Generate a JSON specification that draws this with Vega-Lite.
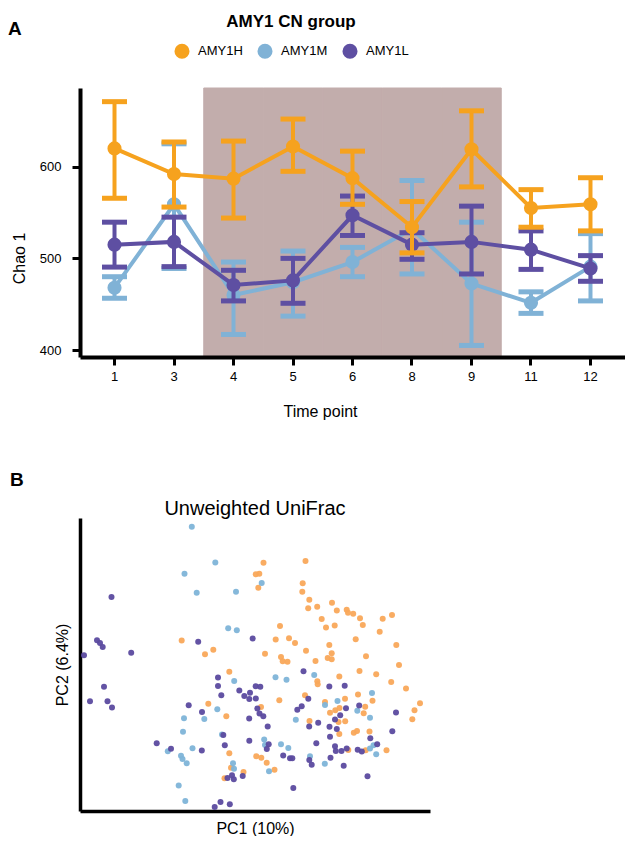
{
  "$schema": "https://vega.github.io/schema/vega-lite/v6.json",
  "padding": {"left": 8, "top": 14, "right": 0, "bottom": 0},
  "config": {
    "font": "Liberation Sans",
    "view": {"stroke": null},
    "axis": {"grid": false, "domainColor": "black", "tickColor": "black", "labelColor": "black", "titleColor": "black", "titleFontWeight": "normal"},
    "title": {"color": "black"}
  },
  "spacing": 52,
  "align": "none",
  "resolve": {"scale": {"color": "independent"}, "legend": {"color": "independent"}},
  "datasets": {
    "chao": [
      {"t": 1, "g": "AMY1H", "mean": 620, "lo": 565.6, "hi": 671},
      {"t": 3, "g": "AMY1H", "mean": 592, "lo": 556, "hi": 627},
      {"t": 4, "g": "AMY1H", "mean": 587, "lo": 544, "hi": 628},
      {"t": 5, "g": "AMY1H", "mean": 622, "lo": 595, "hi": 652},
      {"t": 6, "g": "AMY1H", "mean": 587.5, "lo": 559, "hi": 617},
      {"t": 8, "g": "AMY1H", "mean": 534, "lo": 506, "hi": 562},
      {"t": 9, "g": "AMY1H", "mean": 619, "lo": 578, "hi": 661},
      {"t": 11, "g": "AMY1H", "mean": 555, "lo": 534, "hi": 575},
      {"t": 12, "g": "AMY1H", "mean": 559, "lo": 530, "hi": 588},
      {"t": 1, "g": "AMY1M", "mean": 468, "lo": 456.5, "hi": 480},
      {"t": 3, "g": "AMY1M", "mean": 559, "lo": 489, "hi": 625},
      {"t": 4, "g": "AMY1M", "mean": 460, "lo": 417, "hi": 496},
      {"t": 5, "g": "AMY1M", "mean": 474, "lo": 437, "hi": 508},
      {"t": 6, "g": "AMY1M", "mean": 496, "lo": 480, "hi": 512},
      {"t": 8, "g": "AMY1M", "mean": 532, "lo": 483, "hi": 585},
      {"t": 9, "g": "AMY1M", "mean": 472.5, "lo": 405, "hi": 539.5},
      {"t": 11, "g": "AMY1M", "mean": 451.5, "lo": 440, "hi": 463.5},
      {"t": 12, "g": "AMY1M", "mean": 491, "lo": 453.6, "hi": 527},
      {"t": 1, "g": "AMY1L", "mean": 515, "lo": 490.5, "hi": 539.5},
      {"t": 3, "g": "AMY1L", "mean": 518, "lo": 491, "hi": 545},
      {"t": 4, "g": "AMY1L", "mean": 471, "lo": 453.6, "hi": 487},
      {"t": 5, "g": "AMY1L", "mean": 476, "lo": 451, "hi": 500},
      {"t": 6, "g": "AMY1L", "mean": 547, "lo": 525, "hi": 568},
      {"t": 8, "g": "AMY1L", "mean": 515, "lo": 499, "hi": 528},
      {"t": 9, "g": "AMY1L", "mean": 518, "lo": 483, "hi": 557},
      {"t": 11, "g": "AMY1L", "mean": 509.5, "lo": 488, "hi": 530},
      {"t": 12, "g": "AMY1L", "mean": 489, "lo": 475, "hi": 503}
    ],
    "pcoa": [
      {"g": "AMY1H", "pc1": 190.5, "pc2": 248.3},
      {"g": "AMY1H", "pc1": 232.5, "pc2": 250},
      {"g": "AMY1H", "pc1": 182.8, "pc2": 236.7},
      {"g": "AMY1H", "pc1": 186.3, "pc2": 237.3},
      {"g": "AMY1H", "pc1": 185.3, "pc2": 223.3},
      {"g": "AMY1H", "pc1": 229.7, "pc2": 227.7},
      {"g": "AMY1H", "pc1": 229.3, "pc2": 219.3},
      {"g": "AMY1H", "pc1": 236.3, "pc2": 211.3},
      {"g": "AMY1H", "pc1": 235.2, "pc2": 202.7},
      {"g": "AMY1H", "pc1": 244.2, "pc2": 204.2},
      {"g": "AMY1H", "pc1": 259, "pc2": 208.2},
      {"g": "AMY1H", "pc1": 263.8, "pc2": 200.5},
      {"g": "AMY1H", "pc1": 273.7, "pc2": 201.3},
      {"g": "AMY1H", "pc1": 275, "pc2": 198.3},
      {"g": "AMY1H", "pc1": 280.2, "pc2": 197.3},
      {"g": "AMY1H", "pc1": 287, "pc2": 192.7},
      {"g": "AMY1H", "pc1": 289.8, "pc2": 186},
      {"g": "AMY1H", "pc1": 309.7, "pc2": 192.3},
      {"g": "AMY1H", "pc1": 319, "pc2": 196},
      {"g": "AMY1H", "pc1": 306.7, "pc2": 179.3},
      {"g": "AMY1H", "pc1": 248.7, "pc2": 192},
      {"g": "AMY1H", "pc1": 253, "pc2": 183.5},
      {"g": "AMY1H", "pc1": 261.7, "pc2": 185.5},
      {"g": "AMY1H", "pc1": 207, "pc2": 185},
      {"g": "AMY1H", "pc1": 202.7, "pc2": 171.5},
      {"g": "AMY1H", "pc1": 216, "pc2": 172.7},
      {"g": "AMY1H", "pc1": 222, "pc2": 168},
      {"g": "AMY1H", "pc1": 282.7, "pc2": 171.7},
      {"g": "AMY1H", "pc1": 323.3, "pc2": 166},
      {"g": "AMY1H", "pc1": 256.3, "pc2": 166},
      {"g": "AMY1H", "pc1": 233, "pc2": 160.3},
      {"g": "AMY1H", "pc1": 258.7, "pc2": 157.8},
      {"g": "AMY1H", "pc1": 254.7, "pc2": 153},
      {"g": "AMY1H", "pc1": 258.7, "pc2": 151.7},
      {"g": "AMY1H", "pc1": 242.5, "pc2": 150},
      {"g": "AMY1H", "pc1": 293, "pc2": 154.8},
      {"g": "AMY1H", "pc1": 192, "pc2": 157.3},
      {"g": "AMY1H", "pc1": 208, "pc2": 154},
      {"g": "AMY1H", "pc1": 209.7, "pc2": 149.7},
      {"g": "AMY1H", "pc1": 214.5, "pc2": 149.3},
      {"g": "AMY1H", "pc1": 326, "pc2": 146},
      {"g": "AMY1H", "pc1": 286.5, "pc2": 140},
      {"g": "AMY1H", "pc1": 303.2, "pc2": 136.8},
      {"g": "AMY1H", "pc1": 244.3, "pc2": 129.7},
      {"g": "AMY1H", "pc1": 244.7, "pc2": 126.7},
      {"g": "AMY1H", "pc1": 266.3, "pc2": 134.5},
      {"g": "AMY1H", "pc1": 318.2, "pc2": 129},
      {"g": "AMY1H", "pc1": 333, "pc2": 122.5},
      {"g": "AMY1H", "pc1": 285, "pc2": 116.5},
      {"g": "AMY1H", "pc1": 299.5, "pc2": 110.2},
      {"g": "AMY1H", "pc1": 206.3, "pc2": 110.7},
      {"g": "AMY1H", "pc1": 272, "pc2": 112.3},
      {"g": "AMY1H", "pc1": 347, "pc2": 107.7},
      {"g": "AMY1H", "pc1": 292.2, "pc2": 104.3},
      {"g": "AMY1H", "pc1": 290.7, "pc2": 97.7},
      {"g": "AMY1H", "pc1": 257, "pc2": 98.3},
      {"g": "AMY1H", "pc1": 262.3, "pc2": 100.8},
      {"g": "AMY1H", "pc1": 266.5, "pc2": 103},
      {"g": "AMY1H", "pc1": 232, "pc2": 115.7},
      {"g": "AMY1H", "pc1": 252, "pc2": 109},
      {"g": "AMY1H", "pc1": 188, "pc2": 104},
      {"g": "AMY1H", "pc1": 236.5, "pc2": 90},
      {"g": "AMY1H", "pc1": 265.5, "pc2": 89},
      {"g": "AMY1H", "pc1": 272.2, "pc2": 89.8},
      {"g": "AMY1H", "pc1": 341.5, "pc2": 100.7},
      {"g": "AMY1H", "pc1": 339.3, "pc2": 91.7},
      {"g": "AMY1H", "pc1": 280.8, "pc2": 78.3},
      {"g": "AMY1H", "pc1": 284, "pc2": 80},
      {"g": "AMY1H", "pc1": 266.3, "pc2": 77},
      {"g": "AMY1H", "pc1": 296.5, "pc2": 79.5},
      {"g": "AMY1H", "pc1": 183.3, "pc2": 54.8},
      {"g": "AMY1H", "pc1": 188.3, "pc2": 53.3},
      {"g": "AMY1H", "pc1": 193.7, "pc2": 48.3},
      {"g": "AMY1H", "pc1": 275.3, "pc2": 61},
      {"g": "AMY1H", "pc1": 292.7, "pc2": 60.7},
      {"g": "AMY1H", "pc1": 313.5, "pc2": 60.7},
      {"g": "AMY1H", "pc1": 201.5, "pc2": 41.3},
      {"g": "AMY1H", "pc1": 170.5, "pc2": 39},
      {"g": "AMY1H", "pc1": 158, "pc2": 43.3},
      {"g": "AMY1H", "pc1": 151.5, "pc2": 32.7},
      {"g": "AMY1H", "pc1": 156.3, "pc2": 57.7},
      {"g": "AMY1H", "pc1": 156.3, "pc2": 139.3},
      {"g": "AMY1H", "pc1": 135.3, "pc2": 107.3},
      {"g": "AMY1H", "pc1": 153.3, "pc2": 94.7},
      {"g": "AMY1H", "pc1": 108.7, "pc2": 170.5},
      {"g": "AMY1H", "pc1": 132, "pc2": 156.7},
      {"g": "AMY1H", "pc1": 140.3, "pc2": 161.3},
      {"g": "AMY1M", "pc1": 118.8, "pc2": 284.2},
      {"g": "AMY1M", "pc1": 142.3, "pc2": 248.5},
      {"g": "AMY1M", "pc1": 111.5, "pc2": 237.3},
      {"g": "AMY1M", "pc1": 123.7, "pc2": 218.3},
      {"g": "AMY1M", "pc1": 163, "pc2": 219.2},
      {"g": "AMY1M", "pc1": 188.7, "pc2": 228},
      {"g": "AMY1M", "pc1": 155.2, "pc2": 182.7},
      {"g": "AMY1M", "pc1": 163.8, "pc2": 180.8},
      {"g": "AMY1M", "pc1": 161.2, "pc2": 130},
      {"g": "AMY1M", "pc1": 144.3, "pc2": 101.8},
      {"g": "AMY1M", "pc1": 131.3, "pc2": 92},
      {"g": "AMY1M", "pc1": 111, "pc2": 92.7},
      {"g": "AMY1M", "pc1": 110, "pc2": 79.2},
      {"g": "AMY1M", "pc1": 94.8, "pc2": 59.8},
      {"g": "AMY1M", "pc1": 119.5, "pc2": 62.7},
      {"g": "AMY1M", "pc1": 108, "pc2": 55.3},
      {"g": "AMY1M", "pc1": 109.5, "pc2": 52},
      {"g": "AMY1M", "pc1": 113.7, "pc2": 47.7},
      {"g": "AMY1M", "pc1": 105.7, "pc2": 25.5},
      {"g": "AMY1M", "pc1": 112.3, "pc2": 10},
      {"g": "AMY1M", "pc1": 149, "pc2": 76.5},
      {"g": "AMY1M", "pc1": 191.2, "pc2": 71.5},
      {"g": "AMY1M", "pc1": 192, "pc2": 66},
      {"g": "AMY1M", "pc1": 208, "pc2": 66.7},
      {"g": "AMY1M", "pc1": 215.3, "pc2": 63},
      {"g": "AMY1M", "pc1": 160, "pc2": 47.7},
      {"g": "AMY1M", "pc1": 161, "pc2": 42.3},
      {"g": "AMY1M", "pc1": 196, "pc2": 39.7},
      {"g": "AMY1M", "pc1": 202.5, "pc2": 133.7},
      {"g": "AMY1M", "pc1": 213.5, "pc2": 131.3},
      {"g": "AMY1M", "pc1": 222.8, "pc2": 91.2},
      {"g": "AMY1M", "pc1": 241.2, "pc2": 136},
      {"g": "AMY1M", "pc1": 237, "pc2": 54.7},
      {"g": "AMY1M", "pc1": 251.8, "pc2": 47.3},
      {"g": "AMY1M", "pc1": 252, "pc2": 106},
      {"g": "AMY1M", "pc1": 264.5, "pc2": 110},
      {"g": "AMY1M", "pc1": 299, "pc2": 118},
      {"g": "AMY1M", "pc1": 284.3, "pc2": 100.3},
      {"g": "AMY1M", "pc1": 297, "pc2": 93.3},
      {"g": "AMY1M", "pc1": 300.5, "pc2": 65.7},
      {"g": "AMY1M", "pc1": 297, "pc2": 62.5},
      {"g": "AMY1M", "pc1": 303.2, "pc2": 56.7},
      {"g": "AMY1L", "pc1": 38.5, "pc2": 214},
      {"g": "AMY1L", "pc1": 179.7, "pc2": 172.5},
      {"g": "AMY1L", "pc1": 125.2, "pc2": 169.3},
      {"g": "AMY1L", "pc1": 24, "pc2": 170.7},
      {"g": "AMY1L", "pc1": 27, "pc2": 168},
      {"g": "AMY1L", "pc1": 29.7, "pc2": 164},
      {"g": "AMY1L", "pc1": 11, "pc2": 155.7},
      {"g": "AMY1L", "pc1": 58.2, "pc2": 158.3},
      {"g": "AMY1L", "pc1": 31, "pc2": 124.3},
      {"g": "AMY1L", "pc1": 17, "pc2": 109.8},
      {"g": "AMY1L", "pc1": 34.5, "pc2": 109.8},
      {"g": "AMY1L", "pc1": 39, "pc2": 103.5},
      {"g": "AMY1L", "pc1": 145, "pc2": 133.5},
      {"g": "AMY1L", "pc1": 145, "pc2": 125},
      {"g": "AMY1L", "pc1": 148.3, "pc2": 115.7},
      {"g": "AMY1L", "pc1": 166.3, "pc2": 120.5},
      {"g": "AMY1L", "pc1": 171.3, "pc2": 115},
      {"g": "AMY1L", "pc1": 177, "pc2": 118.3},
      {"g": "AMY1L", "pc1": 176.3, "pc2": 112},
      {"g": "AMY1L", "pc1": 182.8, "pc2": 112.5},
      {"g": "AMY1L", "pc1": 182.7, "pc2": 124.8},
      {"g": "AMY1L", "pc1": 187.3, "pc2": 124.3},
      {"g": "AMY1L", "pc1": 115.7, "pc2": 105.7},
      {"g": "AMY1L", "pc1": 129, "pc2": 99},
      {"g": "AMY1L", "pc1": 176.2, "pc2": 92.5},
      {"g": "AMY1L", "pc1": 184.3, "pc2": 102.5},
      {"g": "AMY1L", "pc1": 186.5, "pc2": 97.5},
      {"g": "AMY1L", "pc1": 190.3, "pc2": 94.7},
      {"g": "AMY1L", "pc1": 83.7, "pc2": 67.8},
      {"g": "AMY1L", "pc1": 98, "pc2": 62.3},
      {"g": "AMY1L", "pc1": 128.8, "pc2": 60.5},
      {"g": "AMY1L", "pc1": 150.3, "pc2": 76},
      {"g": "AMY1L", "pc1": 151.8, "pc2": 65.8},
      {"g": "AMY1L", "pc1": 176.3, "pc2": 70.3},
      {"g": "AMY1L", "pc1": 154.5, "pc2": 33},
      {"g": "AMY1L", "pc1": 159, "pc2": 35.7},
      {"g": "AMY1L", "pc1": 160.8, "pc2": 31.7},
      {"g": "AMY1L", "pc1": 169.7, "pc2": 35},
      {"g": "AMY1L", "pc1": 141.7, "pc2": 4},
      {"g": "AMY1L", "pc1": 147.5, "pc2": 9},
      {"g": "AMY1L", "pc1": 156.8, "pc2": 6.7},
      {"g": "AMY1L", "pc1": 230.5, "pc2": 139.8},
      {"g": "AMY1L", "pc1": 256.3, "pc2": 124.5},
      {"g": "AMY1L", "pc1": 271.7, "pc2": 125.3},
      {"g": "AMY1L", "pc1": 235.3, "pc2": 112.3},
      {"g": "AMY1L", "pc1": 228.7, "pc2": 104.7},
      {"g": "AMY1L", "pc1": 224.3, "pc2": 101.3},
      {"g": "AMY1L", "pc1": 286.2, "pc2": 105.5},
      {"g": "AMY1L", "pc1": 273, "pc2": 102.8},
      {"g": "AMY1L", "pc1": 267.2, "pc2": 95.8},
      {"g": "AMY1L", "pc1": 262, "pc2": 91.5},
      {"g": "AMY1L", "pc1": 245.2, "pc2": 88.2},
      {"g": "AMY1L", "pc1": 236.2, "pc2": 84.5},
      {"g": "AMY1L", "pc1": 256.5, "pc2": 84.2},
      {"g": "AMY1L", "pc1": 263.8, "pc2": 82},
      {"g": "AMY1L", "pc1": 257, "pc2": 74.2},
      {"g": "AMY1L", "pc1": 297.3, "pc2": 72.8},
      {"g": "AMY1L", "pc1": 304.2, "pc2": 66.8},
      {"g": "AMY1L", "pc1": 319.3, "pc2": 79.8},
      {"g": "AMY1L", "pc1": 323, "pc2": 98.5},
      {"g": "AMY1L", "pc1": 194.7, "pc2": 84.5},
      {"g": "AMY1L", "pc1": 195.7, "pc2": 66.8},
      {"g": "AMY1L", "pc1": 193.8, "pc2": 62},
      {"g": "AMY1L", "pc1": 243.3, "pc2": 67.8},
      {"g": "AMY1L", "pc1": 210.2, "pc2": 55.5},
      {"g": "AMY1L", "pc1": 217, "pc2": 52.7},
      {"g": "AMY1L", "pc1": 219.3, "pc2": 52.7},
      {"g": "AMY1L", "pc1": 236.3, "pc2": 51},
      {"g": "AMY1L", "pc1": 238.7, "pc2": 46.3},
      {"g": "AMY1L", "pc1": 257.5, "pc2": 53.2},
      {"g": "AMY1L", "pc1": 262, "pc2": 64.8},
      {"g": "AMY1L", "pc1": 262.8, "pc2": 60},
      {"g": "AMY1L", "pc1": 268.5, "pc2": 60},
      {"g": "AMY1L", "pc1": 273.7, "pc2": 62.5},
      {"g": "AMY1L", "pc1": 284.7, "pc2": 61.2},
      {"g": "AMY1L", "pc1": 288.8, "pc2": 59.5},
      {"g": "AMY1L", "pc1": 270.7, "pc2": 45.3},
      {"g": "AMY1L", "pc1": 294.5, "pc2": 34.7},
      {"g": "AMY1L", "pc1": 220.3, "pc2": 23}
    ]
  },
  "vconcat": [
    {
      "title": {"text": "A", "anchor": "start", "frame": "group", "dx": -72, "dy": 29, "fontSize": 19, "fontWeight": "bold"},
      "width": 545,
      "height": 269,
      "data": {"name": "chao"},
      "encoding": {
        "x": {"field": "t", "type": "ordinal", "title": "Time point",
          "scale": {"type": "band", "domain": [1, 3, 4, 5, 6, 8, 9, 11, 12], "paddingInner": 0, "paddingOuter": 0.08},
          "axis": {"labelAngle": 0, "labelFontSize": 13, "labelPadding": 5, "tickSize": 8, "tickWidth": 3, "domainWidth": 4, "titleFontSize": 16, "titlePadding": 20, "titleX": 240}}
      },
      "layer": [
        {"data": {"values": [{"t": 4}, {"t": 5}, {"t": 6}, {"t": 8}, {"t": 9}]}, "mark": {"type": "rect", "color": "#C2ADAC", "stroke": "#C2ADAC", "strokeWidth": 1, "opacity": 1}},
        {
          "transform": [{"filter": "datum.g === 'AMY1M'"}],
          "encoding": {"color": {"field": "g", "type": "nominal", "scale": {"domain": ["AMY1H", "AMY1M", "AMY1L"], "range": ["#F6A21E", "#80B2D6", "#5E4FA2"]},
            "legend": {"orient": "none", "direction": "horizontal", "legendX": 94, "legendY": -74, "title": "AMY1 CN group", "titleFontSize": 17, "titleFontWeight": "bold", "titleAnchor": "middle", "titlePadding": 12, "labelFontSize": 13, "symbolType": "circle", "symbolSize": 227, "symbolStrokeWidth": 0, "symbolOpacity": 1, "columnPadding": 14, "labelOffset": 8, "titleColor": "black", "labelColor": "black"}}},
          "layer": [
            {"mark": {"type": "rule", "strokeWidth": 4, "opacity": 1}, "encoding": {"y": {"field": "lo", "type": "quantitative", "title": "Chao 1", "scale": {"domain": [392.4, 685.9], "nice": false, "zero": false}, "axis": {"values": [400, 500, 600], "labelFontSize": 13, "labelPadding": 11, "tickSize": 8, "tickWidth": 3, "domainWidth": 4, "titleFontSize": 16, "titlePadding": 12, "titleY": 170}}, "y2": {"field": "hi"}}},
            {"mark": {"type": "tick", "thickness": 5, "size": 25, "opacity": 1}, "encoding": {"y": {"field": "lo", "type": "quantitative", "title": "Chao 1"}}},
            {"mark": {"type": "tick", "thickness": 5, "size": 25, "opacity": 1}, "encoding": {"y": {"field": "hi", "type": "quantitative", "title": "Chao 1"}}},
            {"mark": {"type": "line", "strokeWidth": 4, "opacity": 1}, "encoding": {"y": {"field": "mean", "type": "quantitative", "title": "Chao 1"}}},
            {"mark": {"type": "point", "filled": true, "size": 200, "opacity": 1}, "encoding": {"y": {"field": "mean", "type": "quantitative", "title": "Chao 1"}}}
          ]
        },
        {
          "transform": [{"filter": "datum.g === 'AMY1L'"}],
          "encoding": {"color": {"field": "g", "type": "nominal"}},
          "layer": [
            {"mark": {"type": "rule", "strokeWidth": 4, "opacity": 1}, "encoding": {"y": {"field": "lo", "type": "quantitative", "title": "Chao 1"}, "y2": {"field": "hi"}}},
            {"mark": {"type": "tick", "thickness": 5, "size": 25, "opacity": 1}, "encoding": {"y": {"field": "lo", "type": "quantitative", "title": "Chao 1"}}},
            {"mark": {"type": "tick", "thickness": 5, "size": 25, "opacity": 1}, "encoding": {"y": {"field": "hi", "type": "quantitative", "title": "Chao 1"}}},
            {"mark": {"type": "line", "strokeWidth": 4, "opacity": 1}, "encoding": {"y": {"field": "mean", "type": "quantitative", "title": "Chao 1"}}},
            {"mark": {"type": "point", "filled": true, "size": 200, "opacity": 1}, "encoding": {"y": {"field": "mean", "type": "quantitative", "title": "Chao 1"}}}
          ]
        },
        {
          "transform": [{"filter": "datum.g === 'AMY1H'"}],
          "encoding": {"color": {"field": "g", "type": "nominal"}},
          "layer": [
            {"mark": {"type": "rule", "strokeWidth": 4, "opacity": 1}, "encoding": {"y": {"field": "lo", "type": "quantitative", "title": "Chao 1"}, "y2": {"field": "hi"}}},
            {"mark": {"type": "tick", "thickness": 5, "size": 25, "opacity": 1}, "encoding": {"y": {"field": "lo", "type": "quantitative", "title": "Chao 1"}}},
            {"mark": {"type": "tick", "thickness": 5, "size": 25, "opacity": 1}, "encoding": {"y": {"field": "hi", "type": "quantitative", "title": "Chao 1"}}},
            {"mark": {"type": "line", "strokeWidth": 4, "opacity": 1}, "encoding": {"y": {"field": "mean", "type": "quantitative", "title": "Chao 1"}}},
            {"mark": {"type": "point", "filled": true, "size": 200, "opacity": 1}, "encoding": {"y": {"field": "mean", "type": "quantitative", "title": "Chao 1"}}}
          ]
        }
      ]
    },
    {
      "title": {"text": "B", "anchor": "start", "frame": "group", "dx": -70, "offset": 9, "fontSize": 19, "fontWeight": "bold"},
      "vconcat": [
        {
          "title": {"text": "Unweighted UniFrac", "fontSize": 20, "fontWeight": "normal", "offset": -1},
          "width": 350,
          "height": 293,
          "data": {"name": "pcoa"},
          "mark": {"type": "circle", "size": 36, "opacity": 0.95},
          "encoding": {
            "x": {"field": "pc1", "type": "quantitative", "title": "PC1 (10%)", "scale": {"domain": [7, 357], "nice": false, "zero": false},
              "axis": {"labels": false, "ticks": false, "domainWidth": 3.5, "titleFontSize": 16, "titlePadding": 9}},
            "y": {"field": "pc2", "type": "quantitative", "title": "PC2 (6.4%)", "scale": {"domain": [0, 293], "nice": false, "zero": false},
              "axis": {"labels": false, "ticks": false, "domainWidth": 3.5, "titleFontSize": 16, "titlePadding": 10}},
            "color": {"field": "g", "type": "nominal", "scale": {"domain": ["AMY1H", "AMY1M", "AMY1L"], "range": ["#F9A85A", "#7EB4D8", "#5B4A9F"]}, "legend": null}
          }
        }
      ]
    }
  ]
}
